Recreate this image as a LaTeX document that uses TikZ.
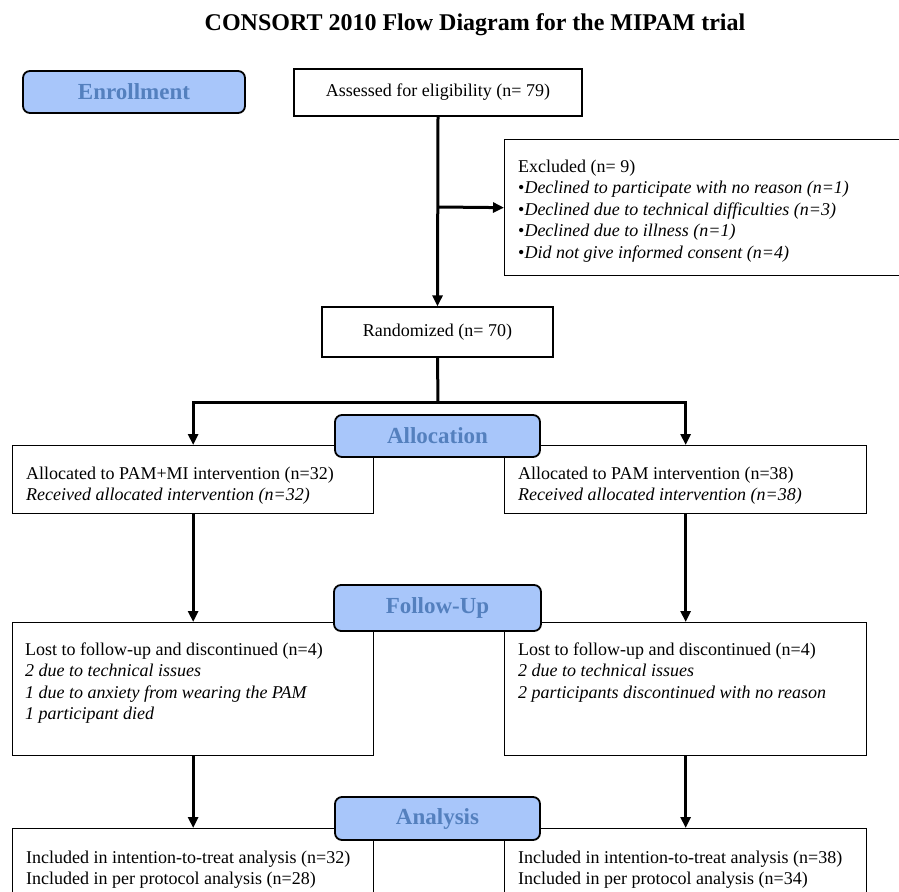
\documentclass[tikz,border=0pt]{standalone}
\usepackage{fontspec}
\setmainfont{Liberation Serif}
\usetikzlibrary{arrows.meta,positioning}
\definecolor{labfill}{RGB}{168,198,250}
\definecolor{labtext}{RGB}{84,128,190}
\tikzset{
  box/.style={draw=black, line width=1.3pt, fill=white, inner sep=0pt},
  stagebox/.style={draw=black, line width=1.8pt, fill=labfill, rounded corners=7pt,
    inner sep=0pt, font=\fontsize{23}{25}\selectfont\bfseries, text=labtext},
  body/.style={inner sep=0pt, align=left, anchor=north west, font=\fontsize{18}{21.5}\selectfont},
  conn/.style={line width=3pt, line join=miter},
  arr/.style={conn, -{Triangle[length=11pt,width=10pt]}}
}
\begin{document}
\begin{tikzpicture}[x=1pt,y=-1pt]
\clip (0,0) rectangle (899,891);
\fill[white] (0,0) rectangle (899,891);
% title
\node[inner sep=0pt, font=\fontsize{24}{28}\selectfont\bfseries, anchor=base] (title) at (475,31) {CONSORT 2010 Flow Diagram for the MIPAM trial};
% enrollment
\node[box, minimum width=288pt, minimum height=47pt, font=\fontsize{18}{21}\selectfont] (assess) at (438,92.5) {Assessed for eligibility (n= 79)};
\node[box, minimum width=402pt, minimum height=136pt, anchor=north west] (excl) at (504,139) {};
\node[body] (excltext) at (518,159.5) {Excluded (n= 9)\\
\textbullet\textit{Declined to participate with no reason (n=1)}\\
\textbullet\textit{Declined due to technical difficulties (n=3)}\\
\textbullet\textit{Declined due to illness (n=1)}\\
\textbullet\textit{Did not give informed consent (n=4)}};
\node[box, minimum width=231pt, minimum height=50pt, font=\fontsize{18}{21}\selectfont] (rand) at (437.5,332) {Randomized (n= 70)};
% allocation boxes
\node[box, minimum width=361pt, minimum height=68pt, anchor=north west] (allocL) at (12,445) {};
\node[body] (allocLtext) at (26,466.5) {Allocated to PAM+MI intervention (n=32)\\
\textit{Received allocated intervention (n=32)}};
\node[box, minimum width=362pt, minimum height=68pt, anchor=north west] (allocR) at (504,445) {};
\node[body] (allocRtext) at (518,466.5) {Allocated to PAM intervention (n=38)\\
\textit{Received allocated intervention (n=38)}};
% follow-up boxes
\node[box, minimum width=361pt, minimum height=133pt, anchor=north west] (fuL) at (12,622) {};
\node[body] (fuLtext) at (25,642.5) {Lost to follow-up and discontinued (n=4)\\
\textit{2 due to technical issues}\\
\textit{1 due to anxiety from wearing the PAM}\\
\textit{1 participant died}};
\node[box, minimum width=362pt, minimum height=133pt, anchor=north west] (fuR) at (504,622) {};
\node[body] (fuRtext) at (518,642.5) {Lost to follow-up and discontinued (n=4)\\
\textit{2 due to technical issues}\\
\textit{2 participants discontinued with no reason}};
% analysis boxes
\node[box, minimum width=361pt, minimum height=80pt, anchor=north west] (anL) at (12,828) {};
\node[body] (anLtext) at (26,850.5) {Included in intention-to-treat analysis (n=32)\\
Included in per protocol analysis (n=28)};
\node[box, minimum width=362pt, minimum height=80pt, anchor=north west] (anR) at (504,828) {};
\node[body] (anRtext) at (518,850.5) {Included in intention-to-treat analysis (n=38)\\
Included in per protocol analysis (n=34)};
% connectors
\coordinate (exclsplit) at (438,207);
\coordinate (randsplit) at (438,402);
\draw[arr] (assess.south) -- (rand.north);
\draw[arr] (exclsplit) -- (excl.west);
\draw[conn] (rand.south) -- (randsplit);
\draw[arr] (randsplit) -| (allocL.north);
\draw[arr] (randsplit) -| (allocR.north);
\draw[arr] (allocL.south) -- (fuL.north);
\draw[arr] (allocR.south) -- (fuR.north);
\draw[arr] (fuL.south) -- (anL.north);
\draw[arr] (fuR.south) -- (anR.north);
% stage labels
\node[stagebox, minimum width=222pt, minimum height=42pt] (enroll) at (134,92) {Enrollment};
\node[stagebox, minimum width=205pt, minimum height=42pt] (alloc) at (437.5,436) {Allocation};
\node[stagebox, minimum width=207pt, minimum height=46pt] (follow) at (437.5,608) {Follow-Up};
\node[stagebox, minimum width=205pt, minimum height=43pt] (analysis) at (437.5,818.5) {Analysis};
\end{tikzpicture}
\end{document}
